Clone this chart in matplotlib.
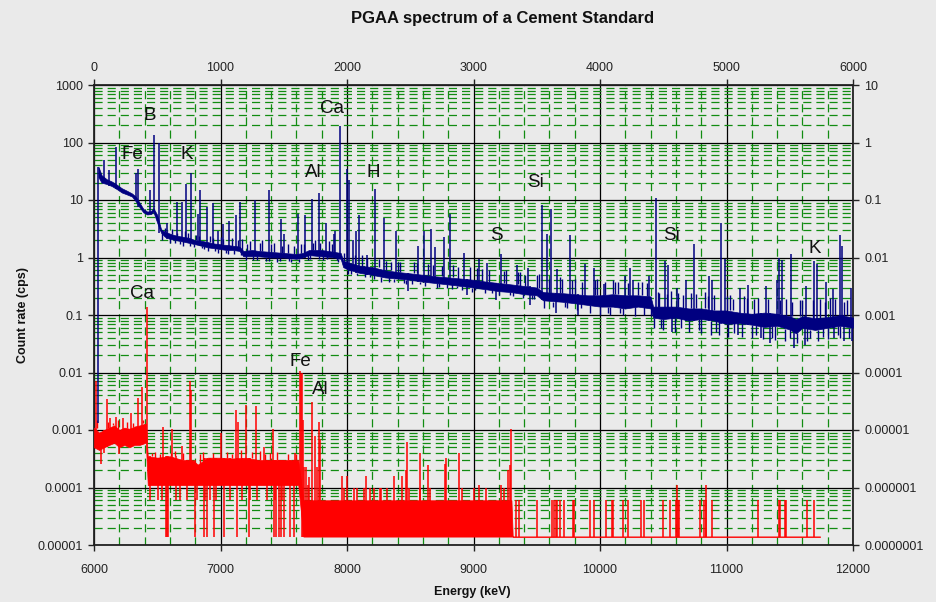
import numpy as np
import matplotlib
matplotlib.use("Agg")
import matplotlib.pyplot as plt
from matplotlib.ticker import FixedLocator, FixedFormatter, MultipleLocator, LogLocator, NullFormatter

plt.rcParams['font.family'] = ['Liberation Sans', 'DejaVu Sans']

# Low energy spectrum (top axis, keV / right axis, cps): continuum band and peaks
blue_E = [35, 60, 100, 140, 180, 220, 260, 300, 330, 360, 390, 420, 450, 470, 500,
          530, 560, 600, 650, 700, 750, 800, 850, 900, 950, 1000, 1050, 1100, 1150,
          1180, 1250, 1300, 1400, 1500, 1600, 1650, 1700, 1800, 1900, 1950, 1970,
          2000, 2100, 2200, 2300, 2400, 2500, 2600, 2700, 2800, 2900, 3000, 3100,
          3200, 3300, 3400, 3500, 3550, 3700, 3800, 3900, 4000, 4100, 4200, 4300,
          4400, 4420, 4500, 4600, 4700, 4800, 4900, 5000, 5100, 5200, 5300, 5400,
          5500, 5550, 5600, 5700, 5800, 5900, 6000]
blue_lo = [0.25, 0.20, 0.19, 0.175, 0.155, 0.135, 0.125, 0.115, 0.095, 0.075, 0.061,
           0.056, 0.057, 0.062, 0.040, 0.027, 0.023, 0.021, 0.020, 0.019, 0.018, 0.017,
           0.016, 0.015, 0.0145, 0.014, 0.0135, 0.0135, 0.013, 0.0105, 0.0105, 0.0105,
           0.010, 0.010, 0.0095, 0.010, 0.011, 0.0105, 0.010, 0.0095, 0.0068, 0.0063,
           0.0054, 0.0050, 0.0045, 0.0043, 0.0041, 0.0038, 0.0036, 0.0034, 0.0032,
           0.0030, 0.0028, 0.0026, 0.0025, 0.0023, 0.0022, 0.0018, 0.0017, 0.0016,
           0.0015, 0.0014, 0.0014, 0.0013, 0.0014, 0.0013, 0.0009, 0.00085, 0.0009,
           0.0008, 0.00085, 0.0008, 0.0007, 0.00072, 0.00068, 0.00062, 0.00065,
           0.00056, 0.00048, 0.0006, 0.00055, 0.0006, 0.00065, 0.0006]
blue_hi = [0.38, 0.27, 0.23, 0.21, 0.185, 0.16, 0.145, 0.13, 0.115, 0.09, 0.070, 0.063,
           0.064, 0.072, 0.055, 0.031, 0.028, 0.026, 0.024, 0.023, 0.022, 0.020, 0.0195,
           0.0185, 0.0175, 0.017, 0.0165, 0.016, 0.0155, 0.013, 0.0135, 0.013, 0.0125,
           0.012, 0.0115, 0.012, 0.0135, 0.0135, 0.0125, 0.012, 0.0088, 0.0083, 0.0072,
           0.0068, 0.0060, 0.0056, 0.0053, 0.0050, 0.0047, 0.0045, 0.0043, 0.0041,
           0.0038, 0.0036, 0.0034, 0.0032, 0.0030, 0.0025, 0.0024, 0.0023, 0.0022,
           0.0022, 0.0023, 0.0022, 0.0022, 0.0021, 0.0014, 0.0014, 0.0014, 0.0013,
           0.0013, 0.0012, 0.0012, 0.0011, 0.00105, 0.0011, 0.00105, 0.00095, 0.00085,
           0.00095, 0.00088, 0.00092, 0.0010, 0.0009]
blue_peak_E = [34, 79, 121, 174, 333, 346, 441, 475, 517, 581, 659, 694, 725, 768, 825,
               840, 891, 940, 983, 1017, 1069, 1125, 1151, 1270, 1381, 1481, 1500,
               1613, 1666, 1724, 1782, 1835, 1897, 1903, 1943, 2001, 2012, 2045, 2075,
               2093, 2155, 2223, 2291, 2384, 2480, 2564, 2608, 2661, 2695, 2767, 2812,
               2925, 2950, 3040, 3105, 3180, 3220, 3340, 3430, 3450, 3539, 3584, 3610,
               3650, 3660, 3759, 3830, 3880, 3950, 4030, 4198, 4240, 4263, 4385, 4440,
               4510, 4535, 4570, 4605, 4680, 4745, 4860, 4882, 4955, 4990, 5090, 5106,
               5170, 5275, 5315, 5340, 5400, 5414, 5440, 5512, 5537, 5620, 5632, 5690,
               5715, 5790, 5843, 5850, 5897, 5910, 5925, 5985, 5990]
blue_peak_val = [1.3e-5, 0.50, 0.33, 0.83, 0.30, 0.34, 0.15, 1.35, 1.0, 0.04, 0.092, 0.094,
                 0.19, 0.29, 0.058, 0.15, 0.076, 0.09, 0.029, 0.039, 0.043, 0.055, 0.092,
                 0.10, 0.15, 0.046, 0.026, 0.058, 0.054, 0.105, 0.135, 0.04, 0.026,
                 0.029, 1.9, 0.34, 0.22, 0.02, 0.029, 0.055, 0.011, 0.155, 0.049, 0.029,
                 0.0026, 0.016, 0.029, 0.031, 0.0155, 0.023, 0.058, 0.0118, 0.0022,
                 0.0095, 0.008, 0.0018, 0.0117, 0.0075, 0.0065, 0.0015, 0.083, 0.026,
                 0.071, 0.0011, 0.0062, 0.025, 0.001, 0.0078, 0.0065, 0.0035, 0.0047,
                 0.0065, 0.004, 0.0048, 0.11, 0.0087, 0.0075, 0.0005, 0.003, 0.004,
                 0.017, 0.0047, 0.0041, 0.04, 0.0095, 0.00045, 0.003, 0.0033, 0.0004,
                 0.0032, 0.00033, 0.004, 0.01, 0.0092, 0.0115, 0.00027, 0.0003, 0.0032,
                 0.0087, 0.0076, 0.0037, 0.0028, 0.0004, 0.025, 0.016, 0.00035, 0.003,
                 0.00035]
# small counting-noise excursions around the continuum
blue_noise_E = [540, 560, 580, 600, 620, 640, 660, 680, 700, 720, 740, 760, 790, 810, 830,
                850, 870, 900, 920, 940, 960, 980, 1000, 1020, 1040, 1060, 1090, 1110,
                1140, 1160, 1170, 1200, 1210, 1230, 1260, 1290, 1310, 1330, 1360, 1380,
                1400, 1420, 1450, 1470, 1490, 1530, 1540, 1560, 1580, 1620, 1640, 1660,
                1690, 1710, 1730, 1750, 1780, 1790, 1810, 1840, 1860, 1880, 1920, 1930,
                1980, 2010, 2030, 2060, 2080, 2120, 2140, 2160, 2180, 2210, 2250, 2270,
                2310, 2330, 2350, 2370, 2400, 2420, 2450, 2470, 2510, 2530, 2550, 2580,
                2620, 2640, 2680, 2710, 2730, 2750, 2790, 2830, 2840, 2870, 2880, 2910,
                2970, 2990, 3010, 3030, 3070, 3090, 3120, 3150, 3200, 3240, 3260, 3290,
                3310, 3350, 3370, 3390, 3410, 3460, 3480, 3500, 3520, 3560, 3600, 3630,
                3680, 3700, 3720, 3740, 3780, 3800, 3820, 3850, 3860, 3920, 3960, 3980,
                4000, 4040, 4060, 4080, 4100, 4120, 4140, 4160, 4180, 4220, 4280, 4300,
                4330, 4350, 4370, 4400, 4430, 4460, 4470, 4480, 4500, 4530, 4560, 4590,
                4620, 4640, 4660, 4700, 4720, 4760, 4780, 4800, 4830, 4850, 4880, 4900,
                4920, 4940, 5000, 5010, 5030, 5050, 5060, 5120, 5140, 5160, 5200, 5220,
                5230, 5250, 5290, 5330, 5360, 5380, 5420, 5460, 5470, 5500, 5520, 5560,
                5580, 5600, 5640, 5660, 5680, 5720, 5740, 5760, 5780, 5800, 5820, 5860,
                5880, 5900, 5930, 5950, 5970, 6000]
blue_noise_val = [0.020, 0.032, 0.029, 0.018, 0.031, 0.018, 0.027, 0.017, 0.016, 0.029,
                  0.027, 0.016, 0.015, 0.025, 0.024, 0.0145, 0.014, 0.013, 0.024, 0.022,
                  0.013, 0.012, 0.023, 0.021, 0.012, 0.0115, 0.022, 0.0115, 0.020, 0.011,
                  0.021, 0.0092, 0.017, 0.019, 0.0092, 0.009, 0.018, 0.020, 0.0088,
                  0.0088, 0.017, 0.018, 0.0085, 0.0088, 0.016, 0.017, 0.0086, 0.0085,
                  0.016, 0.0085, 0.017, 0.017, 0.009, 0.0095, 0.018, 0.020, 0.0093, 0.018,
                  0.0092, 0.0095, 0.019, 0.017, 0.009, 0.0085, 0.012, 0.0052, 0.0052,
                  0.011, 0.0050, 0.011, 0.0045, 0.010, 0.0045, 0.0042, 0.0095, 0.0038,
                  0.0088, 0.0038, 0.0085, 0.0037, 0.0082, 0.0085, 0.0036, 0.0035, 0.0034,
                  0.0082, 0.0080, 0.0034, 0.0032, 0.0078, 0.0075, 0.0030, 0.0031, 0.0072,
                  0.0029, 0.0028, 0.0075, 0.0030, 0.0068, 0.0027, 0.0068, 0.0025, 0.0027,
                  0.0065, 0.0064, 0.0024, 0.0060, 0.0024, 0.0022, 0.0058, 0.0060, 0.0022,
                  0.0021, 0.0055, 0.0055, 0.0020, 0.0050, 0.0019, 0.0019, 0.0049, 0.0052,
                  0.0013, 0.0042, 0.0014, 0.0045, 0.0042, 0.0014, 0.0013, 0.0040, 0.0042,
                  0.0012, 0.0013, 0.0038, 0.0011, 0.0040, 0.0042, 0.0010, 0.0038, 0.0011,
                  0.0010, 0.0040, 0.0038, 0.0037, 0.0011, 0.0010, 0.0036, 0.00095,
                  0.0037, 0.0038, 0.0010, 0.0036, 0.00095, 0.0006, 0.0025, 0.0024,
                  0.0006, 0.00055, 0.0023, 0.0026, 0.0005, 0.0024, 0.0006, 0.0022,
                  0.0005, 0.0024, 0.0023, 0.00055, 0.00048, 0.0025, 0.0021, 0.00045,
                  0.0022, 0.0005, 0.00045, 0.0021, 0.00042, 0.0022, 0.0019, 0.00048,
                  0.00042, 0.0021, 0.0020, 0.0004, 0.0019, 0.00045, 0.0020, 0.00038,
                  0.0019, 0.0004, 0.00037, 0.0018, 0.00035, 0.0019, 0.0004, 0.0017,
                  0.00032, 0.0018, 0.0018, 0.00035, 0.0004, 0.0018, 0.00035, 0.0019,
                  0.00042, 0.0017, 0.00038, 0.0020, 0.0019, 0.00045, 0.0004, 0.0017,
                  0.0018, 0.0004, 0.0004]

# High energy spectrum (bottom axis, keV / left axis, cps)
red_E = [6000, 6040, 6080, 6120, 6160, 6200, 6240, 6280, 6320, 6360, 6410, 6425, 6500,
         6600, 6700, 6780, 6820, 6900, 7000, 7100, 7200, 7300, 7400, 7500, 7615, 7655,
         9300, 9310, 11740]
red_lo = [5e-4, 4.5e-4, 5e-4, 5.5e-4, 6e-4, 5e-4, 5.5e-4, 5e-4, 5.5e-4, 5.5e-4, 6e-4,
          1.1e-4, 1.1e-4, 1.1e-4, 1.1e-4, 1.1e-4, 1.1e-4, 1.1e-4, 1.1e-4, 1.1e-4,
          1.1e-4, 1.1e-4, 1.1e-4, 1.1e-4, 1.1e-4, 1.4e-5, 1.4e-5, 1.4e-5, 1.4e-5]
red_hi = [1.1e-3, 9e-4, 1.0e-3, 1.1e-3, 1.2e-3, 1.0e-3, 1.1e-3, 1.05e-3, 1.15e-3, 1.2e-3,
          1.3e-3, 3.5e-4, 3.3e-4, 3.5e-4, 3e-4, 3e-4, 2.5e-4, 3.3e-4, 3.3e-4, 3.2e-4,
          3.3e-4, 3e-4, 3e-4, 3e-4, 3e-4, 6e-5, 6e-5, 1.4e-5, 1.4e-5]
red_peak_E = [6016, 6055, 6080, 6100, 6130, 6170, 6200, 6230, 6290, 6345, 6378, 6417,
              6443, 6509, 6536, 6549, 6567, 6575, 6588, 6620, 6649, 6681, 6694, 6734,
              6760, 6766, 6800, 6818, 6866, 6879, 6890, 6918, 6945, 6966, 7000, 7024,
              7077, 7124, 7130, 7137, 7169, 7203, 7222, 7230, 7282, 7288, 7340, 7367,
              7414, 7420, 7433, 7440, 7460, 7480, 7486, 7500, 7552, 7578, 7590, 7626,
              7633, 7641, 7650, 7662, 7675, 7690, 7700, 7720, 7745, 7760, 7775, 7790,
              7961, 7980, 8000, 8059, 8080, 8133, 8154, 8185, 8212, 8259, 8270, 8317,
              8370, 8431, 8470, 8475, 8489, 8576, 8581, 8639, 8660, 8775, 8784, 8885,
              8911, 9003, 9046, 9096, 9220, 9241, 9270, 9288, 9299, 9336, 9362, 9500,
              9618, 9637, 9653, 9663, 9684, 9716, 9785, 9795, 9917, 9953, 10048, 10093,
              10101, 10180, 10218, 10323, 10344, 10495, 10550, 10600, 10607, 10614,
              10624, 10793, 10825, 10835, 10840, 10888, 11247, 11418, 11426, 11465,
              11473, 11637, 11690]
red_peak_val = [7e-3, 2.6e-4, 4e-4, 3.5e-3, 1.6e-3, 1.7e-3, 3.8e-4, 1.6e-3, 2e-3, 3.6e-3,
                5.6e-3, 0.138, 6e-5, 6e-5, 6e-5, 1.15e-3, 1.4e-5, 1.4e-5, 1.4e-5, 1.05e-3,
                6e-5, 6e-5, 5.3e-4, 6e-5, 7e-3, 5e-3, 1.4e-5, 6e-5, 1.4e-5, 6e-5, 1.4e-5,
                6e-5, 1.4e-5, 6e-5, 8.9e-4, 1.4e-5, 6e-5, 2.2e-3, 1.4e-5, 1.4e-3, 6e-5,
                2.75e-3, 1.4e-5, 6e-5, 2.6e-3, 6e-5, 5e-4, 6e-5, 1.05e-3, 1.4e-5, 6e-5,
                1.4e-5, 1.4e-5, 1.4e-5, 6e-5, 1.4e-5, 1.4e-5, 1.4e-5, 4e-4, 0.0105,
                0.0095, 0.0098, 1.5e-3, 2.3e-4, 2.3e-4, 1.1e-4, 1.5e-4, 3.1e-3, 8e-4,
                2.3e-4, 1.4e-3, 7e-4, 1.6e-4, 1e-4, 1.6e-4, 1e-4, 1e-4, 1e-4, 1.6e-4,
                1e-4, 1e-4, 1e-4, 1e-4, 1e-4, 1.6e-4, 1.6e-4, 2e-4, 6.3e-4, 1e-4, 1e-4,
                4e-4, 2.5e-4, 1e-4, 2.6e-4, 3.2e-4, 4e-4, 1e-4, 1e-4, 1.1e-4, 1e-4,
                1.1e-4, 1e-4, 2e-4, 2.5e-4, 1.05e-3, 6e-5, 6e-5, 6e-5, 6e-5, 6e-5, 6e-5,
                6e-5, 6e-5, 6e-5, 6e-5, 6e-5, 6e-5, 6e-5, 6e-5, 6e-5, 6e-5, 6e-5, 6e-5,
                6e-5, 6e-5, 6e-5, 6e-5, 6e-5, 1.1e-4, 6e-5, 6e-5, 6e-5, 6e-5, 1.1e-4,
                6e-5, 6e-5, 6e-5, 6e-5, 6e-5, 6e-5, 6e-5, 6e-5, 6e-5]
red_noise_E = [6020, 6110, 6150, 6190, 6260, 6310, 6390, 6460, 6480, 6520, 6610, 6640,
               6700, 6840, 6860, 6940, 7050, 7090, 7160, 7250, 7310, 7350, 7390, 7450,
               7530, 7600]
red_noise_val = [1.5e-3, 1.4e-3, 1.3e-3, 1.5e-3, 1.4e-3, 1.3e-3, 1.5e-3, 4e-4, 4.2e-4,
                 3.9e-4, 4e-4, 4.3e-4, 4e-4, 3.8e-4, 4.2e-4, 4e-4, 4.1e-4, 3.9e-4, 4.5e-4,
                 4.2e-4, 4.4e-4, 3.9e-4, 4e-4, 4.1e-4, 3.8e-4, 3.9e-4]

left_ticks = [1e-5, 1e-4, 1e-3, 1e-2, 1e-1, 1, 10, 100, 1000]
left_labels = ['0.00001', '0.0001', '0.001', '0.01', '0.1', '1', '10', '100', '1000']
right_ticks = [1e-7, 1e-6, 1e-5, 1e-4, 1e-3, 1e-2, 1e-1, 1, 10]
right_labels = ['0.0000001', '0.000001', '0.00001', '0.0001', '0.001', '0.01', '0.1', '1', '10']
bottom_ticks = [6000, 7000, 8000, 9000, 10000, 11000, 12000]
top_ticks = [0, 1000, 2000, 3000, 4000, 5000, 6000]

BG = '#eaeaea'
BLUE = '#000080'
RED = '#ff0000'
GREEN = '#128c12'

fig = plt.figure(figsize=(9.36, 6.02), dpi=100, facecolor=BG)
pos = [94 / 936, 1 - 545 / 602, 759 / 936, 460 / 602]
ax = fig.add_axes(pos, facecolor=BG)
ax2 = fig.add_axes(pos, frameon=False)
ax2.patch.set_visible(False)


def nearest(E, pE):
    return np.abs(np.array(E)[:, None] - np.array(pE)[None, :]).argmin(axis=0)


def draw_spectrum(a, E, lo, hi, pE, pv, nE, nv, color):
    lo = np.array(lo)
    hi = np.array(hi)
    a.fill_between(E, lo, hi, color=color, lw=0.5, zorder=3)
    # noise excursions: from band edge out to the value
    idx = nearest(E, nE)
    nv = np.array(nv)
    a.vlines(nE, np.minimum(nv, hi[idx]), np.maximum(nv, lo[idx]),
             color=color, lw=1.0, zorder=3)
    # peaks and dips span the whole band
    idx = nearest(E, pE)
    pv = np.array(pv)
    a.vlines(pE, np.minimum(pv, lo[idx]), np.maximum(pv, hi[idx]),
             color=color, lw=1.1, zorder=3)


# bottom / left axes (high energy part)
ax.set_xlim(6000, 12000)
ax.set_yscale('log')
ax.set_ylim(1e-5, 1e3)
ax.set_axisbelow(True)
ax.xaxis.set_major_locator(FixedLocator(bottom_ticks))
ax.xaxis.set_minor_locator(MultipleLocator(200))
ax.yaxis.set_major_locator(FixedLocator(left_ticks))
ax.yaxis.set_major_formatter(FixedFormatter(left_labels))
ax.yaxis.set_minor_locator(LogLocator(base=10, subs=range(2, 10), numticks=30))
ax.yaxis.set_minor_formatter(NullFormatter())
ax.grid(which='major', color='black', lw=0.9, ls='-')
ax.grid(which='minor', color=GREEN, lw=0.9, ls=(0, (6.5, 4)))
ax.tick_params(which='minor', length=0)
ax.tick_params(which='major', direction='out', length=4, width=1, labelsize=9,
               colors='#222222')
ax.tick_params(axis='x', pad=10)
ax.tick_params(axis='y', pad=4)
for s in ax.spines.values():
    s.set_linewidth(1.3)
    s.set_color('#222222')
draw_spectrum(ax, red_E, red_lo, red_hi, red_peak_E, red_peak_val,
              red_noise_E, red_noise_val, RED)

# top / right axes (low energy part)
ax2.set_xlim(0, 6000)
ax2.set_yscale('log')
ax2.set_ylim(1e-7, 10)
ax2.xaxis.tick_top()
ax2.yaxis.tick_right()
ax2.xaxis.set_major_locator(FixedLocator(top_ticks))
ax2.yaxis.set_major_locator(FixedLocator(right_ticks))
ax2.yaxis.set_major_formatter(FixedFormatter(right_labels))
ax2.yaxis.set_minor_locator(FixedLocator([]))
ax2.tick_params(which='major', direction='out', length=4, width=1, labelsize=9,
                colors='#222222')
ax2.tick_params(axis='x', pad=4)
ax2.tick_params(axis='y', pad=4)
draw_spectrum(ax2, blue_E, blue_lo, blue_hi, blue_peak_E, blue_peak_val,
              blue_noise_E, blue_noise_val, BLUE)

# element labels
blue_tags = [('B', 437, 2.9), ('Fe', 304, 0.63), ('K', 733, 0.63), ('Ca', 1885, 3.9),
             ('Al', 1734, 0.30), ('H', 2204, 0.30), ('Si', 3490, 0.20),
             ('S', 3185, 0.0237), ('Si', 4563, 0.0237), ('K', 5696, 0.0142)]
red_tags = [('Ca', 6377, 0.238), ('Fe', 7635, 0.0158), ('Al', 7787, 0.00497)]
for t, x, y in blue_tags:
    ax2.text(x, y, t, fontsize=13.5, ha='center', va='center', color='#111111', zorder=5)
for t, x, y in red_tags:
    ax.text(x, y, t, fontsize=13.5, ha='center', va='center', color='#111111', zorder=5)

fig.text(0.537, 0.970, 'PGAA spectrum of a Cement Standard', fontsize=12,
         fontweight='bold', ha='center', va='center', color='#111111')
fig.text(0.505, 0.0166, 'Energy (keV)', fontsize=9, fontweight='bold',
         ha='center', va='center', color='#111111')
fig.text(0.0246, 0.477, 'Count rate (cps)', fontsize=9, fontweight='bold',
         ha='center', va='center', rotation=90, color='#111111')

fig.savefig('out.png', dpi=100, facecolor=BG)
